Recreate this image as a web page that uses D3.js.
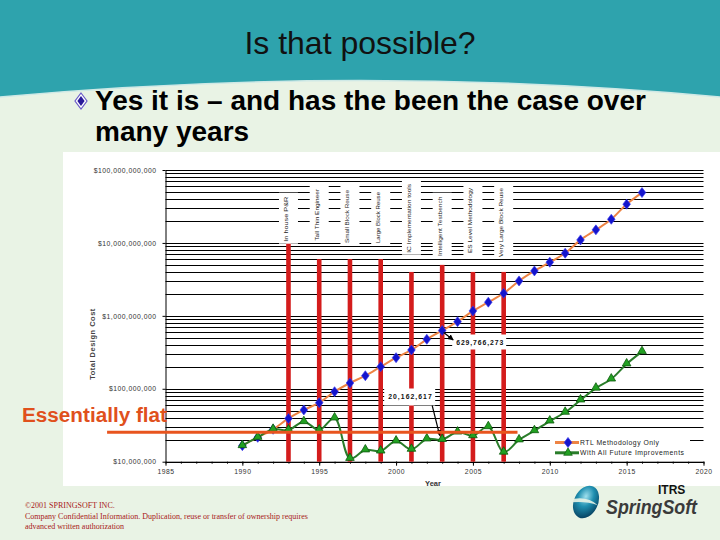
<!DOCTYPE html>
<html><head><meta charset="utf-8">
<script src="https://cdn.jsdelivr.net/npm/d3@7"></script>
<style>html,body{margin:0;padding:0;background:#e9f3e5;} svg{display:block;}</style>
</head><body><svg id="c" width="720" height="540"></svg>
<script>
// ---------- DATA ----------
const years = [1990,1991,1992,1993,1994,1995,1996,1997,1998,1999,2000,2001,2002,2003,2004,2005,2006,2007,2008,2009,2010,2011,2012,2013,2014,2015,2016];
const rtlValues = [16.6e6,21.6e6,27.8e6,39.2e6,51.2e6,64.4e6,91.2e6,120e6,151e6,201e6,267e6,341e6,477e6,629766273,832e6,1.17e9,1.54e9,2.04e9,3.01e9,4.13e9,5.44e9,7.22e9,11.0e9,15.1e9,21.1e9,34.0e9,49.0e9];
const futureValues = [16.6e6,21.6e6,27.8e6,27.2e6,35.4e6,27.2e6,39.7e6,11.1e6,14.5e6,14.0e6,19.2e6,14.8e6,20.5e6,20162617,25.5e6,22.7e6,30.2e6,13.5e6,19.9e6,26.6e6,36.1e6,47.6e6,70.2e6,102e6,136e6,219e6,323e6];
const seriesNames = ["RTL Methodology Only","With All Future Improvements"];
const milestoneYears = [1993,1995,1997,1999,2001,2003,2005,2007];
const milestoneTops = [1e10,6e9,6e9,6e9,4e9,5e9,4e9,4e9];
const milestoneLabels = ["In house P&R","Tall Thin Engineer","Small Block Reuse","Large Block Reuse","IC Implementation tools","Intelligent Testbench","ES Level Methodology","Very Large Block Reuse"];
const xTickYears = [1985,1990,1995,2000,2005,2010,2015,2020];
const xTickLabels = ["1985","1990","1995","2000","2005","2010","2015","2020"];
const yTickValues = [1e7,1e8,1e9,1e10,1e11];
const yTickLabels = ["$10,000,000","$100,000,000","$1,000,000,000","$10,000,000,000","$100,000,000,000"];
const calloutYear = 2003;
const calloutLabels = ["629,766,273","20,162,617"];
const flatLevel = 25.3e6;
const flatSpan = [1981.2, 2007.9];
const titleText = "Is that possible?";
const bulletLines = ["Yes it is \u2013 and has the been the case over","many years"];
const footerLines = ["\u00a92001 SPRINGSOFT  INC.","Company Confidential Information. Duplication, reuse or  transfer of ownership requires","advanced written authorization"];

// ---------- LAYOUT (positions only) ----------
const labelBottoms = [241.7,240.7,243,243,252.7,256,253,257];
const labelLengths = [45,51.7,53,51,68.7,59.3,65,69];

const svg = d3.select("#c");
const FONT = "'Liberation Sans', Arial, sans-serif";

// background
svg.append("rect").attr("width",720).attr("height",540).attr("fill","#e9f3e5");
svg.append("path").attr("d","M0,0 H720 V97 Q360,64 0,97 Z").attr("fill","#2ea3ad");
svg.append("path").attr("d","M0,97 Q360,64 720,97").attr("fill","none").attr("stroke","#cfe9e6").attr("stroke-width",1.5);

// title
svg.append("text").attr("x",360).attr("y",54).attr("text-anchor","middle")
  .attr("font-family",FONT).attr("font-size",32).attr("fill","#111").text(titleText);

// bullet
const bl = svg.append("g").attr("transform","translate(81,101)");
bl.append("path").attr("d","M0,-8 L6,0 L0,8 L-6,0 Z").attr("fill","#ffffff").attr("stroke","#6a5ac8").attr("stroke-width",1.2);
bl.append("path").attr("d","M0,-5 L3.6,0 L0,5 L-3.6,0 Z").attr("fill","#2a1a9a");
bulletLines.forEach((t,i)=>{
  svg.append("text").attr("x",95).attr("y",110+i*31).attr("font-family",FONT).attr("font-weight","bold")
    .attr("font-size",28).attr("fill","#000").text(t);
});

// chart box
svg.append("rect").attr("x",63).attr("y",152).attr("width",657).attr("height",334).attr("fill","#fff");

const x = d3.scaleLinear().domain([1985,2020]).range([165.5,703.5]);
const y = d3.scaleLog().domain([1e7,1e11]).range([461.7,170]);

// gridlines (log minor lines)
const gridVals = [];
for (let e=7;e<=10;e++) for (let m=1;m<=9;m++) gridVals.push(m*Math.pow(10,e));
gridVals.push(1e11);
svg.append("g").selectAll("line").data(gridVals).join("line")
  .attr("x1",x(1985)).attr("x2",x(2020))
  .attr("y1",d=>Math.round(y(d))+0.5).attr("y2",d=>Math.round(y(d))+0.5)
  .attr("stroke","#000").attr("stroke-width",1.1);

// axes
const gx = svg.append("g").attr("transform",`translate(0,${y(1e7)})`)
  .call(d3.axisBottom(x).tickValues(xTickYears).tickFormat((d,i)=>xTickLabels[i]).tickSize(4).tickSizeOuter(0));
const gxm = svg.append("g").attr("transform",`translate(0,${y(1e7)})`)
  .call(d3.axisBottom(x).tickValues(d3.range(1985,2021)).tickFormat("").tickSize(2).tickSizeOuter(0));
gxm.select(".domain").remove();
const gy = svg.append("g").attr("transform",`translate(${x(1985)},0)`)
  .call(d3.axisLeft(y).tickValues(yTickValues).tickFormat((d,i)=>yTickLabels[i]).tickSize(3).tickSizeOuter(0));
[gx,gxm,gy].forEach(g=>{
  g.selectAll("path,line").attr("stroke","#000");
  g.selectAll("text").attr("font-family",FONT).attr("font-size",6.8).attr("letter-spacing",0.5).attr("fill","#333");
});
gy.selectAll("text").attr("x",-9);

// axis titles
svg.append("text").attr("transform","translate(95,344) rotate(-90)").attr("text-anchor","middle")
  .attr("font-family",FONT).attr("font-size",7.5).attr("font-weight","bold").attr("letter-spacing",0.5).attr("fill","#444").text("Total Design Cost");
svg.append("text").attr("x",433).attr("y",485.5).attr("text-anchor","middle")
  .attr("font-family",FONT).attr("font-size",7.5).attr("font-weight","bold").attr("fill","#333").text("Year");

// milestone red bars
svg.append("g").selectAll("rect").data(milestoneYears).join("rect")
  .attr("x",d=>x(d)-2.3).attr("width",4.6)
  .attr("y",(d,i)=>y(milestoneTops[i])).attr("height",(d,i)=>y(1e7)-y(milestoneTops[i]))
  .attr("fill","#d41c1c");

// series
const line = d3.line().x((d,i)=>x(years[i])).y(d=>y(d)).curve(d3.curveCatmullRom.alpha(0.5));
svg.append("path").datum(rtlValues).attr("d",line).attr("fill","none").attr("stroke","#ee8444").attr("stroke-width",2);
svg.append("g").selectAll("path").data(rtlValues).join("path")
  .attr("transform",(d,i)=>`translate(${x(years[i])},${y(d)}) scale(1.25,0.95)`)
  .attr("d",d3.symbol(d3.symbolDiamond,32)).attr("fill","#1414cc").attr("stroke","#3a3aee").attr("stroke-width",0.6);
svg.append("path").datum(futureValues).attr("d",line).attr("fill","none").attr("stroke","#2a7d2a").attr("stroke-width",2);
svg.append("g").selectAll("path").data(futureValues).join("path")
  .attr("transform",(d,i)=>`translate(${x(years[i])},${y(d)-0.5})`)
  .attr("d",d3.symbol(d3.symbolTriangle,32)).attr("fill","#22a022").attr("stroke","#0d5a0d").attr("stroke-width",0.8);

// milestone label boxes and vertical texts
milestoneYears.forEach((yr,i)=>{
  const bx = x(yr), bot = labelBottoms[i], len = labelLengths[i];
  svg.append("rect").attr("x",bx-9.5).attr("y",bot-len-4).attr("width",19).attr("height",len+6).attr("fill","#fff");
  svg.append("text").attr("transform",`translate(${bx-0.5},${bot}) rotate(-90)`)
    .attr("font-family",FONT).attr("font-size",6.2).attr("fill","#222")
    .attr("textLength",len).attr("lengthAdjust","spacingAndGlyphs").text(milestoneLabels[i]);
});

// callouts
const defs = svg.append("defs");
defs.append("marker").attr("id","ah").attr("viewBox","0 0 10 10").attr("refX",9).attr("refY",5)
  .attr("markerWidth",5).attr("markerHeight",5).attr("orient","auto")
  .append("path").attr("d","M0,0 L10,5 L0,10 Z").attr("fill","#000");
const cx = x(calloutYear), cy1 = y(rtlValues[years.indexOf(calloutYear)]), cy2 = y(futureValues[years.indexOf(calloutYear)]);
svg.append("rect").attr("x",cx+10).attr("y",cy1+4).attr("width",54).attr("height",15).attr("fill","#fff");
svg.append("text").attr("x",cx+14).attr("y",cy1+14.5).attr("font-family",FONT).attr("font-size",6.8).attr("font-weight","bold")
  .attr("fill","#111").attr("textLength",47).attr("lengthAdjust","spacing").text(calloutLabels[0]);
svg.append("line").attr("x1",cx+1.5).attr("y1",cy1+2).attr("x2",cx+11).attr("y2",cy1+9.5)
  .attr("stroke","#000").attr("stroke-width",1.2).attr("marker-end","url(#ah)");
svg.append("rect").attr("x",cx-58).attr("y",cy2-51).attr("width",51).attr("height",17).attr("fill","#fff");
svg.append("text").attr("x",cx-54).attr("y",cy2-40.5).attr("font-family",FONT).attr("font-size",6.8).attr("font-weight","bold")
  .attr("fill","#111").attr("textLength",43.5).attr("lengthAdjust","spacing").text(calloutLabels[1]);
svg.append("line").attr("x1",cx-10).attr("y1",cy2-34).attr("x2",cx-2.5).attr("y2",cy2-4)
  .attr("stroke","#000").attr("stroke-width",1.2).attr("marker-end","url(#ah)");

// flat line
svg.append("line").attr("x1",x(flatSpan[0])).attr("x2",x(flatSpan[1])).attr("y1",y(flatLevel)).attr("y2",y(flatLevel))
  .attr("stroke","#e8541e").attr("stroke-width",3);
svg.append("text").attr("x",22).attr("y",421.7).attr("font-family",FONT).attr("font-weight","bold").attr("font-size",19.5)
  .attr("fill","#e0501c").attr("textLength",145).attr("lengthAdjust","spacingAndGlyphs").text("Essentially flat");

// legend
const lg = svg.append("g");
lg.append("rect").attr("x",550).attr("y",436).attr("width",140).attr("height",23).attr("fill","#fff");
const legendY = [442.5,452.8];
const legendLen = [79,104];
seriesNames.forEach((n,i)=>{
  const ly = legendY[i];
  lg.append("line").attr("x1",555).attr("x2",579).attr("y1",ly).attr("y2",ly)
    .attr("stroke",i===0?"#ee8444":"#2a7d2a").attr("stroke-width",3);
  lg.append("path").attr("transform",`translate(568,${ly})` + (i===0?" scale(1.25,0.95)":""))
    .attr("d",d3.symbol(i===0?d3.symbolDiamond:d3.symbolTriangle,32))
    .attr("fill",i===0?"#1414cc":"#22a022").attr("stroke",i===0?"#3a3aee":"#0d5a0d").attr("stroke-width",0.7);
  lg.append("text").attr("x",580).attr("y",ly+2.4).attr("font-family",FONT).attr("font-size",6.8).attr("fill","#222")
    .attr("textLength",legendLen[i]).attr("lengthAdjust","spacing").text(n);
});

// footer
footerLines.forEach((t,i)=>{
  svg.append("text").attr("x",25).attr("y",[507.5,519,528.5][i]).attr("font-family","'Liberation Serif','Times New Roman',serif")
    .attr("font-size",8).attr("fill","#a81818").text(t);
});

// logo
const grad = defs.append("radialGradient").attr("id","lg").attr("cx","40%").attr("cy","35%").attr("r","70%");
grad.append("stop").attr("offset","0%").attr("stop-color","#9fe0ee");
grad.append("stop").attr("offset","45%").attr("stop-color","#1f8fb0");
grad.append("stop").attr("offset","100%").attr("stop-color","#063e5e");
const logo = svg.append("g").attr("transform","translate(586,502) rotate(25)");
logo.append("ellipse").attr("rx",12).attr("ry",17).attr("fill","url(#lg)");
logo.append("path").attr("d","M-12,2 Q0,-6 12,-2 Q0,-1 -12,6 Z").attr("fill","#e9f3e5").attr("opacity",0.9);
svg.append("text").attr("x",658).attr("y",494).attr("font-family",FONT).attr("font-weight","bold").attr("font-size",12).attr("fill","#111").text("ITRS");
svg.append("text").attr("x",606).attr("y",514).attr("font-family",FONT).attr("font-weight","bold").attr("font-style","italic")
  .attr("font-size",20).attr("fill","#3a3a3a").attr("textLength",91).attr("lengthAdjust","spacingAndGlyphs").text("SpringSoft");
</script></body></html>
